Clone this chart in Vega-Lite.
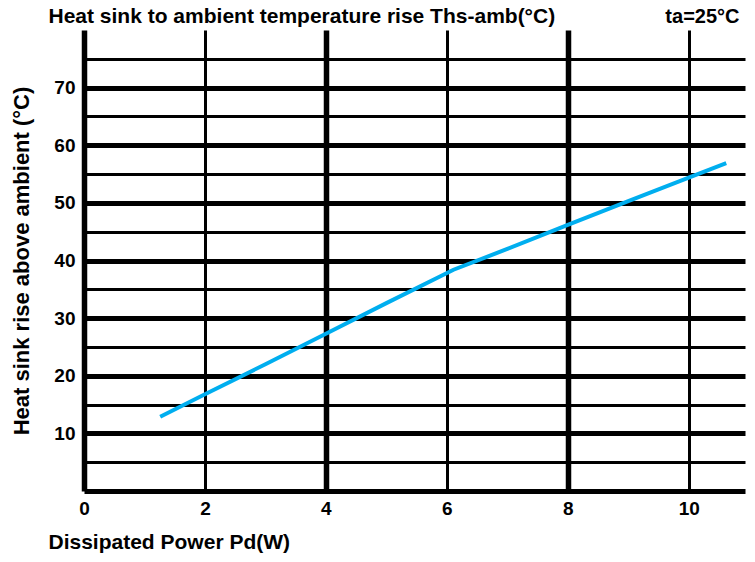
{
  "$schema": "https://vega.github.io/schema/vega-lite/v6.json",
  "autosize": {"type": "none"},
  "width": 661,
  "height": 461,
  "padding": {"left": 84, "top": 30, "right": 10, "bottom": 71},
  "background": "white",
  "config": {
    "view": {"stroke": null},
    "font": "Liberation Sans",
    "axis": {"labelFont": "Liberation Sans", "titleFont": "Liberation Sans", "labelColor": "black", "titleColor": "black"}
  },
  "data": {
    "values": [
      {"power": 1.26, "rise": 12.9},
      {"power": 2, "rise": 16.8},
      {"power": 3, "rise": 22.0},
      {"power": 4, "rise": 27.3},
      {"power": 5, "rise": 32.6},
      {"power": 6.11, "rise": 38.4},
      {"power": 7, "rise": 42.0},
      {"power": 8, "rise": 46.2},
      {"power": 9, "rise": 50.3},
      {"power": 10, "rise": 54.4},
      {"power": 10.62, "rise": 56.9}
    ]
  },
  "resolve": {"axis": {"x": "independent", "y": "independent"}},
  "layer": [
    {
      "mark": {"type": "line", "stroke": "#00AEEF", "strokeWidth": 4},
      "encoding": {
        "x": {
          "field": "power", "type": "quantitative",
          "scale": {"domain": [0, 10.93], "nice": false, "zero": false},
          "axis": {
            "orient": "bottom",
            "values": [0, 2, 4, 6, 8, 10],
            "grid": true,
            "gridColor": "black",
            "gridOpacity": 1,
            "gridWidth": {"condition": {"test": "datum.value % 4 === 0", "value": 5.5}, "value": 3},
            "domain": false,
            "ticks": false,
            "labelFlush": false,
            "labelFontSize": 19,
            "labelFontWeight": "bold",
            "labelPadding": 8,
            "title": "Dissipated Power Pd(W)",
            "titleFontSize": 21,
            "titleFontWeight": "bold",
            "titleAnchor": "start",
            "titleAlign": "left",
            "titleBaseline": "alphabetic",
            "titleX": -36,
            "titleY": 57.5
          }
        },
        "y": {
          "field": "rise", "type": "quantitative",
          "scale": {"domain": [0, 80], "nice": false, "zero": true},
          "axis": {
            "orient": "left",
            "values": [0, 5, 10, 15, 20, 25, 30, 35, 40, 45, 50, 55, 60, 65, 70, 75],
            "grid": true,
            "gridColor": "black",
            "gridOpacity": 1,
            "gridWidth": {"condition": {"test": "datum.value % 10 === 0", "value": 5}, "value": 2.8},
            "domain": false,
            "ticks": false,
            "labelFlush": false,
            "labelExpr": "datum.value % 10 === 0 && datum.value > 0 ? datum.label : ''",
            "labelFontSize": 19,
            "labelFontWeight": "bold",
            "labelPadding": 9,
            "labelBaseline": "middle",
            "title": "Heat sink rise above ambient (°C)",
            "titleFontSize": 22,
            "titleFontWeight": "bold",
            "titleBaseline": "alphabetic",
            "titleX": -56
          }
        }
      }
    },
    {
      "mark": {"type": "line", "opacity": 0},
      "encoding": {
        "x": {
          "field": "power", "type": "quantitative",
          "axis": {
            "orient": "top",
            "grid": false,
            "domain": false,
            "ticks": false,
            "labels": false,
            "title": "Heat sink to ambient temperature rise Ths-amb(°C)",
            "titleFontSize": 21,
            "titleFontWeight": "bold",
            "titleAnchor": "start",
            "titleAlign": "left",
            "titleBaseline": "alphabetic",
            "titleX": -36,
            "titleY": -8
          }
        },
        "y": {
          "field": "rise", "type": "quantitative",
          "axis": {
            "orient": "right",
            "grid": false,
            "domain": false,
            "ticks": false,
            "labels": false,
            "title": "ta=25°C",
            "titleAngle": 0,
            "titleFontSize": 20,
            "titleFontWeight": "bold",
            "titleAlign": "right",
            "titleBaseline": "alphabetic",
            "titleX": -6,
            "titleY": -8
          }
        }
      }
    }
  ]
}
